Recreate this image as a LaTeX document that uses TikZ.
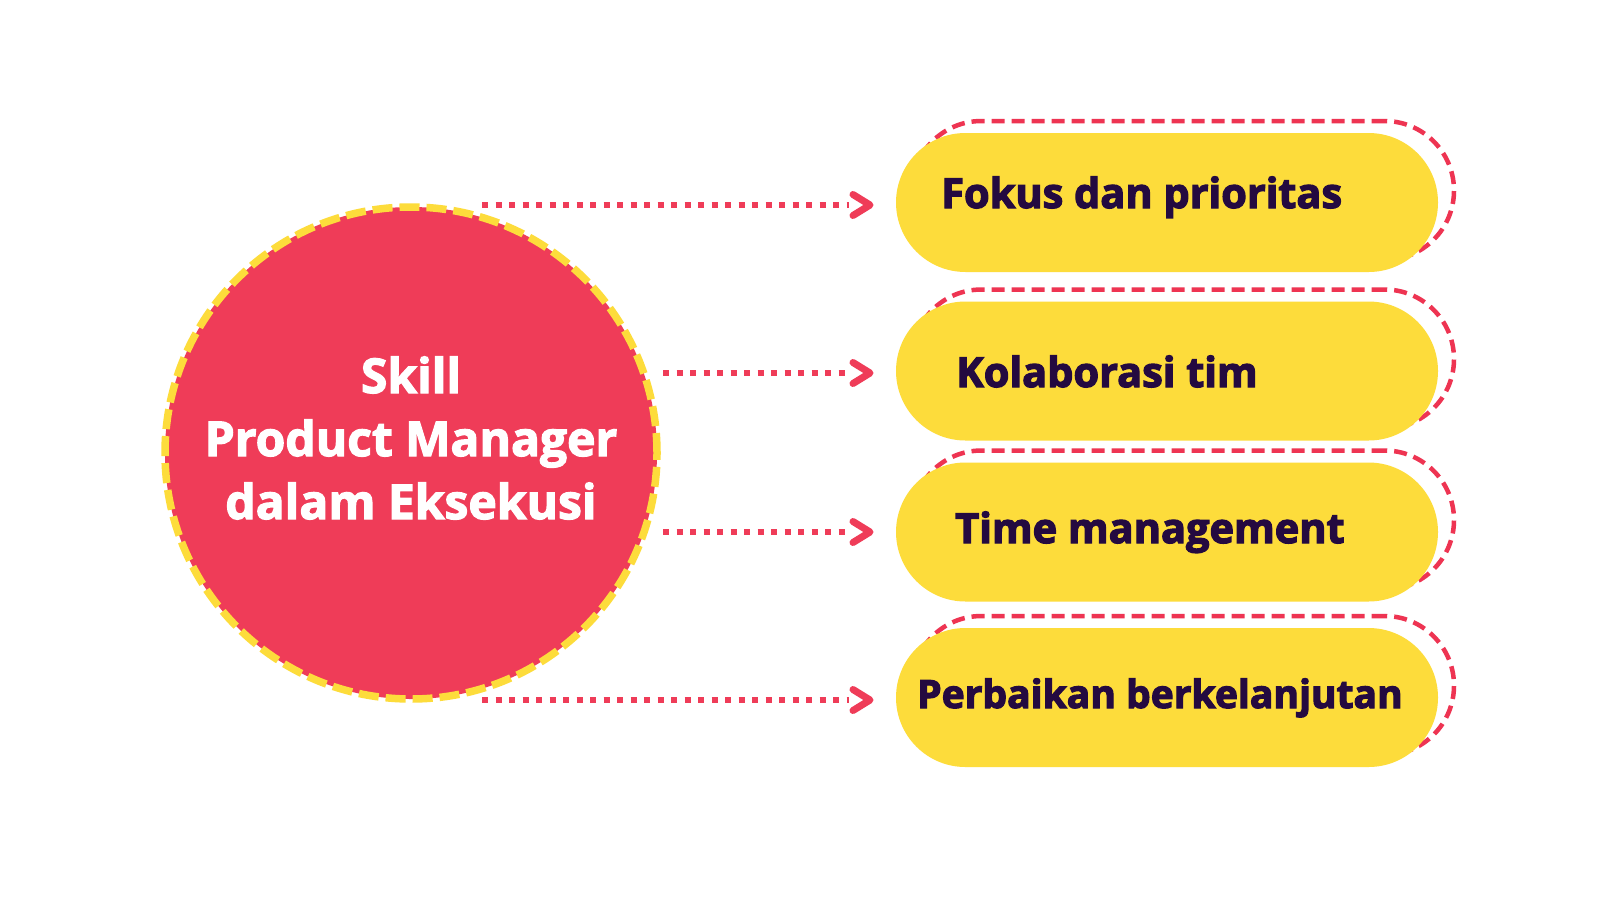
\documentclass[tikz,border=0pt]{standalone}
\usepackage{fontspec}
\setmainfont{Open Sans}
\definecolor{cred}{HTML}{EF3C58}
\definecolor{dred}{HTML}{EE3452}
\definecolor{pyel}{HTML}{FDDC3B}
\definecolor{ptxt}{HTML}{240A40}
\tikzset{
  hub/.style={circle, inner sep=0pt, minimum size=492pt, fill=cred, draw=pyel,
    line width=7.5pt, dash pattern=on 20pt off 7pt},
  hubtext/.style={anchor=base, inner sep=0pt, text=white,
    font=\bfseries\fontsize{48}{58}\selectfont\addfontfeatures{FakeBold=2.5}},
  pill/.style={rectangle, rounded corners=69.5pt, minimum width=542pt,
    minimum height=139pt, inner sep=0pt, fill=pyel},
  pillshadow/.style={rectangle, rounded corners=69.5pt, minimum width=542pt,
    minimum height=139pt, inner sep=0pt, draw=dred, line width=4.5pt,
    dash pattern=on 13pt off 7pt},
  pilltext/.style={anchor=base west, inner sep=0pt, text=ptxt,
    font=\bfseries\fontsize{41.5}{48}\selectfont\addfontfeatures{FakeBold=3}},
  smalltext/.style={pilltext,
    font=\bfseries\fontsize{39}{46}\selectfont\addfontfeatures{FakeBold=3}},
  shaft/.style={draw=cred, line width=6pt, dash pattern=on 6pt off 7.5pt},
  chev/.style={draw=cred, line width=7pt, line cap=round, line join=round}
}
\begin{document}
\begin{tikzpicture}[x=1pt, y=-1pt]
\useasboundingbox (0,0) rectangle (1600,900);
\fill[white] (0,0) rectangle (1600,900);

% hub circle
\node[hub] (hub) at (411,453) {};
\node[hubtext] (h1) at (411,393) {Skill};
\node[hubtext] (h2) at (411,456) {Product Manager};
\node[hubtext] (h3) at (411,519) {dalam Eksekusi};

% pills
\foreach \i/\cy in {1/202.5, 2/371, 3/532, 4/697.5}{
  \node[pillshadow] (d\i) at (1183,\cy-12) {};
  \node[pill] (p\i) at (1167,\cy) {};
}
\node[pilltext] (t1) at (941,208) {Fokus dan prioritas};
\node[pilltext] (t2) at (956,387) {Kolaborasi tim};
\node[pilltext] (t3) at (955,543) {Time management};
\node[smalltext] (t4) at (917,708) {Perbaikan berkelanjutan};

% arrows
\foreach \i/\sx/\ay in {1/482/205, 2/663/373, 3/663/532, 4/482/700}{
  \coordinate (s\i) at (\sx,\ay);
  \coordinate (m\i) at (849,\ay);
  \coordinate (e\i) at (870,\ay);
  \coordinate (u\i) at (853,\ay-10.5);
  \coordinate (l\i) at (853,\ay+10.5);
  \draw[shaft] (s\i) -- (m\i);
  \draw[chev] (u\i) -- (e\i) -- (l\i);
}
\end{tikzpicture}
\end{document}
